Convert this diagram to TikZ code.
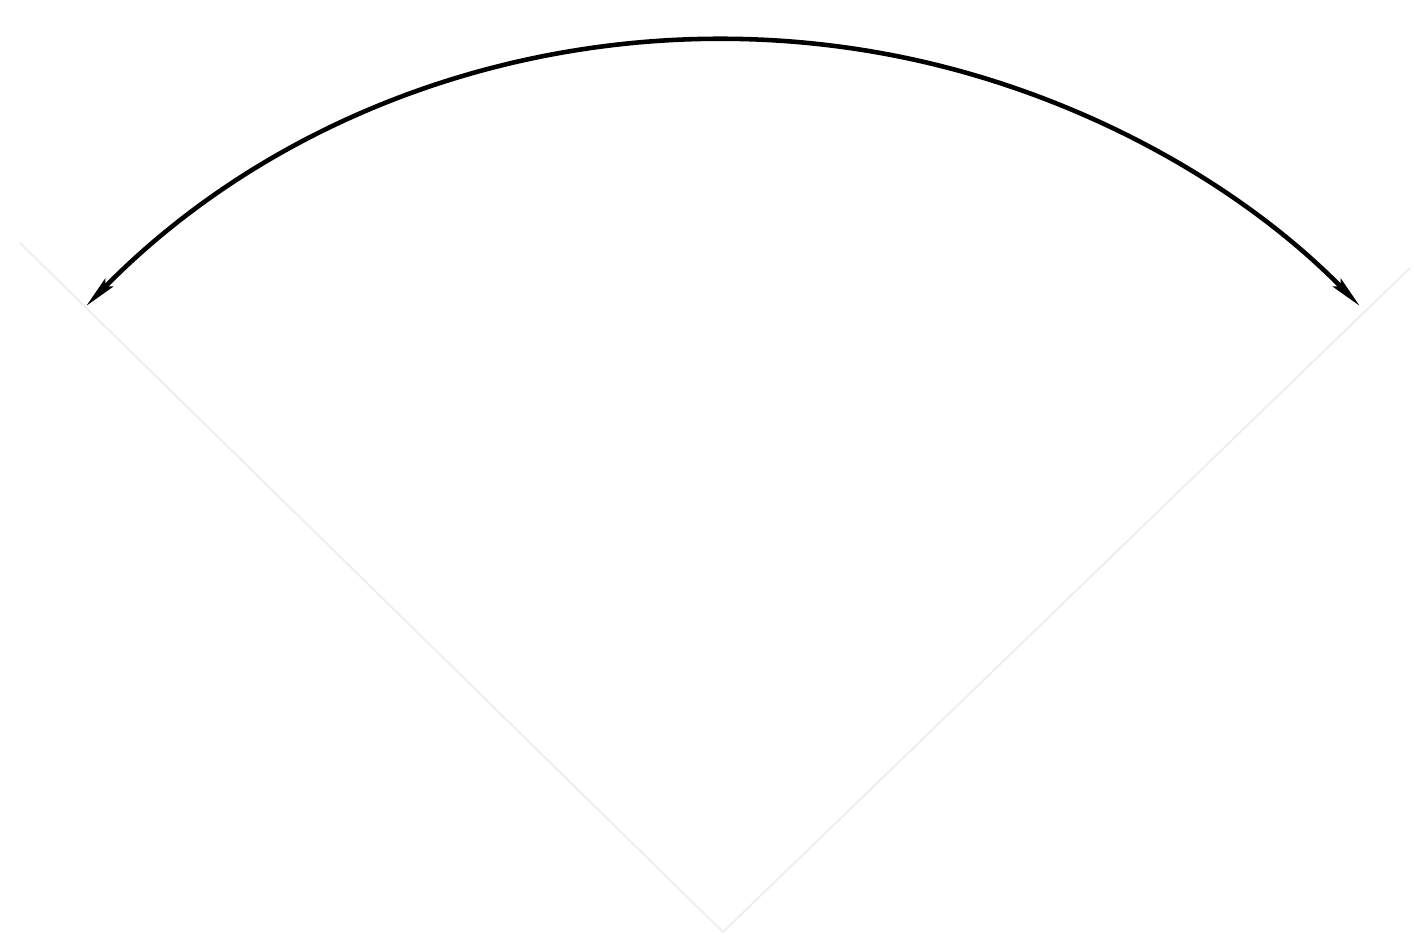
\documentclass[tikz,border=0pt]{standalone}
\usetikzlibrary{calc}
\usetikzlibrary{arrows.meta}

\begin{document}
\begin{tikzpicture}[x=0.02cm, y=0.02cm]
\def\rad{893}
\def\aleft{135.5}
\def\aright{44.5}

\useasboundingbox (0,0) rectangle (1414,935);

\coordinate (O) at (723,3);
\coordinate (L) at (20,692);
\coordinate (R) at (1410,667);

\draw[line width=1pt, black!7] (O) -- (L);
\draw[line width=1pt, black!7] (O) -- (R);

\draw[{Stealth[length=6.5mm, width=2.2mm, inset=1mm]}-{Stealth[length=6.5mm, width=2.2mm, inset=1mm]}, line width=2.6pt]
    (O) ++(\aleft:\rad) arc[start angle=\aleft, end angle=\aright, radius=\rad];
\end{tikzpicture}
\end{document}
